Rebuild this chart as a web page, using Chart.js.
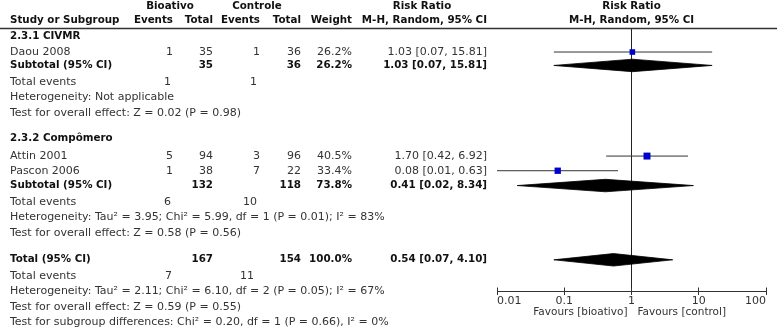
<!DOCTYPE html>
<html><head><meta charset="utf-8">
<script src="https://cdn.jsdelivr.net/npm/chart.js@4.4.1/dist/chart.umd.min.js"></script>
<style>html,body{margin:0;padding:0;background:#fff;overflow:hidden}canvas{display:block}</style>
</head><body>
<canvas id="c" width="777" height="328" style="width:777px;height:328px"></canvas>
<script>
// ---------------- data ----------------
const studyNames   = ['Daou 2008', 'Attin 2001', 'Pascon 2006'];
const bioEvents    = [1, 5, 1];
const bioTotals    = [35, 94, 38];
const ctlEvents    = [1, 3, 7];
const ctlTotals    = [36, 96, 22];
const studyWeights = [26.2, 40.5, 33.4];
const studyRR      = [1.03, 1.70, 0.08];
const studyLow     = [0.07, 0.42, 0.01];
const studyHigh    = [15.81, 6.92, 0.63];

const groupNames     = ['2.3.1 CIVMR', '2.3.2 Compômero'];
const groupBioEvents = [1, 6];
const groupCtlEvents = [1, 10];
const groupBioTotals = [35, 132];
const groupCtlTotals = [36, 118];
const groupWeights   = [26.2, 73.8];
const groupRR        = [1.03, 0.41];
const groupLow       = [0.07, 0.02];
const groupHigh      = [15.81, 8.34];
const groupHet  = ['Heterogeneity: Not applicable',
                   'Heterogeneity: Tau² = 3.95; Chi² = 5.99, df = 1 (P = 0.01); I² = 83%'];
const groupTest = ['Test for overall effect: Z = 0.02 (P = 0.98)',
                   'Test for overall effect: Z = 0.58 (P = 0.56)'];

const totalLabel   = ['Total (95% CI)'];
const totalTotals  = [167, 154];
const totalEvents  = [7, 11];
const totalWeight  = [100.0];
const totalRR      = [0.54];
const totalLow     = [0.07];
const totalHigh    = [4.10];
const totalNotes   = ['Heterogeneity: Tau² = 2.11; Chi² = 6.10, df = 2 (P = 0.05); I² = 67%',
                      'Test for overall effect: Z = 0.59 (P = 0.55)',
                      'Test for subgroup differences: Chi² = 0.20, df = 1 (P = 0.66), I² = 0%'];

const armLabels    = ['Bioativo', 'Controle'];
const headerLabels = ['Study or Subgroup', 'Events', 'Total', 'Events', 'Total', 'Weight'];
const rrHeader     = ['Risk Ratio', 'M-H, Random, 95% CI'];
const tickValues   = [0.01, 0.1, 1, 10, 100];
const tickLabels   = ['0.01', '0.1', '1', '10', '100'];
const favoursLabels = ['Favours [bioativo]', 'Favours [control]'];

// ---------------- layout (row positions in line units) ----------------
const ROW = {
  head1: -1.41, head2: -0.48,
  study: [1.54, 8.21, 9.15],
  gTitle: [0.53, 7.08], gSub: [2.40, 10.10], gEv: [3.46, 11.15], gHet: [4.46, 12.15], gTest: [5.47, 13.16],
  total: 14.86, totalEv: 15.90, notes: [16.89, 17.88, 18.88]
};
const Y_MAX = 16.86;
const DH = 0.40;
const COL = {name: 10, bioEv: 173, bioTot: 213, ctlEv: 260, ctlTot: 301, weight: 352, rr: 487,
             bioHead: 170, ctlHead: 257, rrHead: 422};
const F_REG = '11px "DejaVu Sans"';
const F_BOLD = 'bold 10.3px "DejaVu Sans"';
const C_REG = '#333';
const C_BOLD = '#111';

const fmtRR = (r, l, h) => r.toFixed(2) + ' [' + l.toFixed(2) + ', ' + h.toFixed(2) + ']';
const fmtW = w => w.toFixed(1) + '%';

// ---------------- datasets ----------------
const datasets = [];
// reference line at RR = 1
datasets.push({data: [{x: 1, y: 0}, {x: 1, y: Y_MAX}], showLine: true, borderColor: '#222',
  borderWidth: 1, pointRadius: 0, order: 4});
// CI lines
studyRR.forEach((v, i) => {
  datasets.push({data: [{x: studyLow[i], y: ROW.study[i]}, {x: studyHigh[i], y: ROW.study[i]}],
    showLine: true, borderColor: '#333', borderWidth: 1, pointRadius: 0, order: 2});
});
// diamonds
function diamond(r, l, h, row) {
  return {data: [{x: l, y: row}, {x: r, y: row - DH}, {x: h, y: row}, {x: r, y: row + DH}, {x: l, y: row}],
    showLine: true, fill: 'shape', backgroundColor: '#000', borderColor: '#000', borderWidth: 0.8,
    pointRadius: 0, tension: 0, order: 3};
}
groupRR.forEach((v, i) => datasets.push(diamond(v, groupLow[i], groupHigh[i], ROW.gSub[i])));
datasets.push(diamond(totalRR[0], totalLow[0], totalHigh[0], ROW.total));
// study markers
datasets.push({data: studyRR.map((v, i) => ({x: v, y: ROW.study[i]})), pointStyle: 'rect',
  pointRadius: studyWeights.map(w => 0.774 * Math.sqrt(w)), backgroundColor: '#0000CC',
  borderColor: '#0000CC', borderWidth: 0, order: 0});

// ---------------- text plugin ----------------
const tablePlugin = {
  id: 'table',
  afterDraw(chart) {
    const ctx = chart.ctx, ys = chart.scales.y, xs = chart.scales.x;
    const Y = r => ys.getPixelForValue(r);
    const t = (s, x, row, align, bold) => {
      ctx.font = bold ? F_BOLD : F_REG;
      ctx.fillStyle = bold ? C_BOLD : C_REG;
      ctx.textAlign = align;
      ctx.textBaseline = 'middle';
      ctx.fillText(String(s), x, Y(row));
    };
    ctx.save();
    // header rule
    const ry = Math.round(Y(0)) + 0.5;
    ctx.strokeStyle = '#333'; ctx.lineWidth = 1.5;
    ctx.beginPath(); ctx.moveTo(0, ry); ctx.lineTo(chart.width, ry); ctx.stroke();
    // headers
    const x1 = xs.getPixelForValue(1);
    t(armLabels[0], COL.bioHead, ROW.head1, 'center', true);
    t(armLabels[1], COL.ctlHead, ROW.head1, 'center', true);
    t(rrHeader[0], COL.rrHead, ROW.head1, 'center', true);
    t(rrHeader[0], x1, ROW.head1, 'center', true);
    t(headerLabels[0], COL.name, ROW.head2, 'left', true);
    t(headerLabels[1], COL.bioEv, ROW.head2, 'right', true);
    t(headerLabels[2], COL.bioTot, ROW.head2, 'right', true);
    t(headerLabels[3], COL.ctlEv, ROW.head2, 'right', true);
    t(headerLabels[4], COL.ctlTot, ROW.head2, 'right', true);
    t(headerLabels[5], COL.weight, ROW.head2, 'right', true);
    t(rrHeader[1], COL.rr, ROW.head2, 'right', true);
    t(rrHeader[1], x1, ROW.head2, 'center', true);
    // groups
    const groupStudies = [[0], [1, 2]];
    groupNames.forEach((g, gi) => {
      t(g, COL.name, ROW.gTitle[gi], 'left', true);
      groupStudies[gi].forEach(i => {
        const r = ROW.study[i];
        t(studyNames[i], COL.name, r, 'left', false);
        t(bioEvents[i], COL.bioEv, r, 'right', false);
        t(bioTotals[i], COL.bioTot, r, 'right', false);
        t(ctlEvents[i], COL.ctlEv, r, 'right', false);
        t(ctlTotals[i], COL.ctlTot, r, 'right', false);
        t(fmtW(studyWeights[i]), COL.weight, r, 'right', false);
        t(fmtRR(studyRR[i], studyLow[i], studyHigh[i]), COL.rr, r, 'right', false);
      });
      const rs = ROW.gSub[gi];
      t('Subtotal (95% CI)', COL.name, rs, 'left', true);
      t(groupBioTotals[gi], COL.bioTot, rs, 'right', true);
      t(groupCtlTotals[gi], COL.ctlTot, rs, 'right', true);
      t(fmtW(groupWeights[gi]), COL.weight, rs, 'right', true);
      t(fmtRR(groupRR[gi], groupLow[gi], groupHigh[gi]), COL.rr, rs, 'right', true);
      t('Total events', COL.name, ROW.gEv[gi], 'left', false);
      t(groupBioEvents[gi], COL.bioEv - 2, ROW.gEv[gi], 'right', false);
      t(groupCtlEvents[gi], COL.ctlEv - 3, ROW.gEv[gi], 'right', false);
      t(groupHet[gi], COL.name, ROW.gHet[gi], 'left', false);
      t(groupTest[gi], COL.name, ROW.gTest[gi], 'left', false);
    });
    // overall
    t(totalLabel[0], COL.name, ROW.total, 'left', true);
    t(totalTotals[0], COL.bioTot, ROW.total, 'right', true);
    t(totalTotals[1], COL.ctlTot, ROW.total, 'right', true);
    t(fmtW(totalWeight[0]), COL.weight, ROW.total, 'right', true);
    t(fmtRR(totalRR[0], totalLow[0], totalHigh[0]), COL.rr, ROW.total, 'right', true);
    t('Total events', COL.name, ROW.totalEv, 'left', false);
    t(totalEvents[0], COL.bioEv - 1, ROW.totalEv, 'right', false);
    t(totalEvents[1], COL.ctlEv - 6, ROW.totalEv, 'right', false);
    totalNotes.forEach((s, i) => t(s, COL.name, ROW.notes[i], 'left', false));
    // upward tick marks
    const by = chart.chartArea.bottom;
    ctx.strokeStyle = '#333'; ctx.lineWidth = 1;
    tickValues.forEach(v => {
      const px = Math.round(xs.getPixelForValue(v) - 0.5) + 0.5;
      ctx.beginPath(); ctx.moveTo(px, by - 3.5); ctx.lineTo(px, by); ctx.stroke();
    });
    // favours labels
    ctx.font = '10.5px "DejaVu Sans"';
    ctx.fillStyle = C_REG; ctx.textBaseline = 'middle';
    ctx.textAlign = 'right'; ctx.fillText(favoursLabels[0], x1 - 4, by + 21);
    ctx.textAlign = 'left'; ctx.fillText(favoursLabels[1], x1 + 6, by + 21);
    ctx.restore();
  }
};

new Chart(document.getElementById('c'), {
  type: 'scatter',
  data: {datasets},
  options: {
    responsive: false, animation: false, devicePixelRatio: 1,
    layout: {padding: {left: 497, right: 11, top: 28, bottom: 15}},
    plugins: {legend: {display: false}, tooltip: {enabled: false}},
    scales: {
      x: {
        type: 'logarithmic', min: 0.01, max: 100, position: 'bottom',
        afterBuildTicks: s => { s.ticks = tickValues.map(v => ({value: v})); },
        afterFit: s => { s.height = 22; },
        ticks: {
          callback: (v, i) => tickLabels[i], autoSkip: false, maxRotation: 0, minRotation: 0,
          align: 'inner', padding: 0, color: C_REG, font: {family: 'DejaVu Sans', size: 11}
        },
        grid: {drawOnChartArea: false, drawTicks: true, tickLength: 4, color: '#333', lineWidth: 1},
        border: {display: true, color: '#333', width: 1}
      },
      y: {type: 'linear', display: false, reverse: true, min: 0, max: Y_MAX}
    }
  },
  plugins: [tablePlugin]
});
</script>
</body></html>
